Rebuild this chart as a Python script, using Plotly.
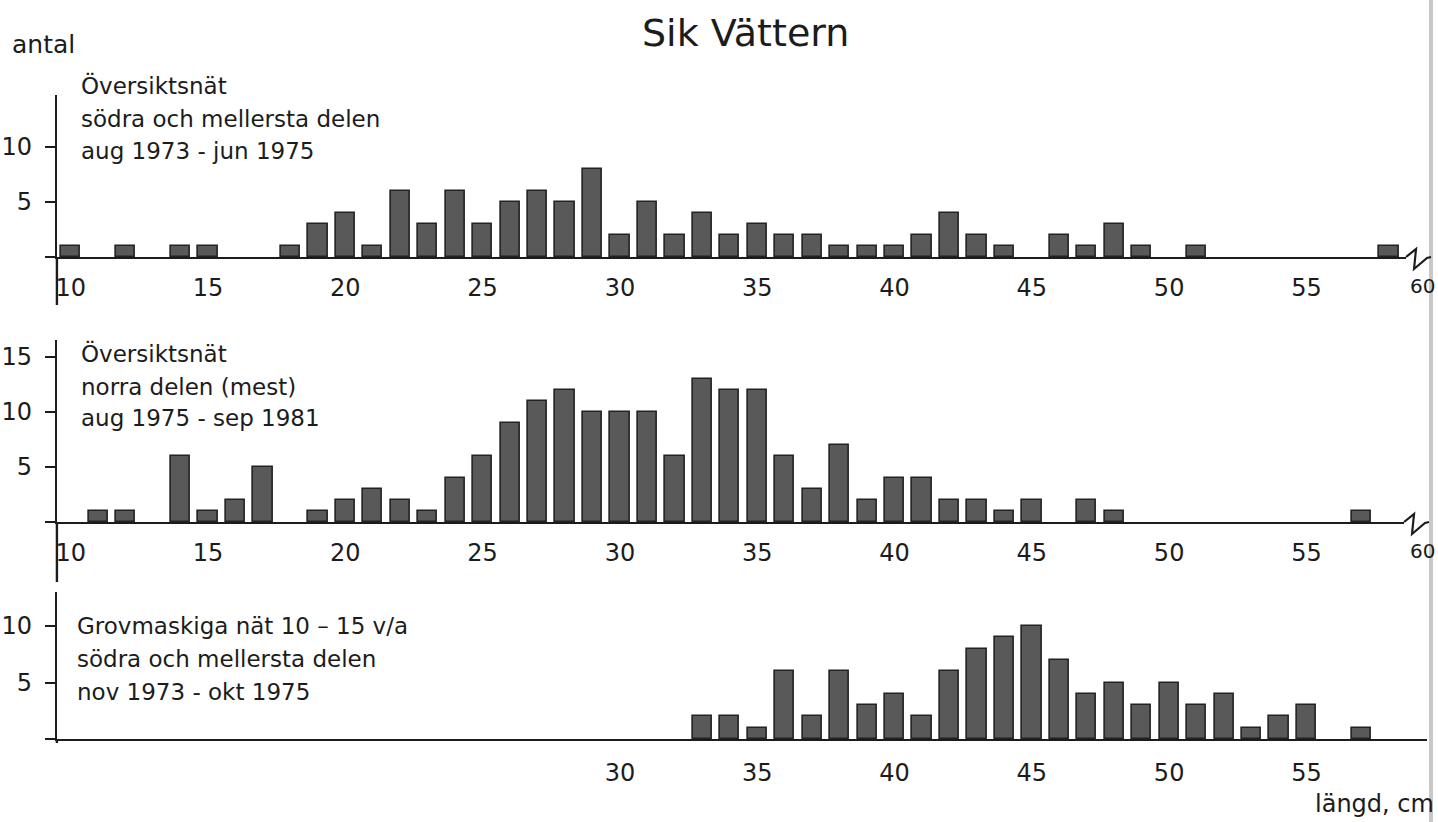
import plotly.graph_objects as go

W, H = 1438, 822

# ---------------- data (length in cm -> number of fish) ----------------
len1 = [10, 12, 14, 15, 18, 19, 20, 21, 22, 23, 24, 25, 26, 27, 28, 29, 30, 31, 32,
        33, 34, 35, 36, 37, 38, 39, 40, 41, 42, 43, 44, 46, 47, 48, 49, 51, 58]
cnt1 = [1, 1, 1, 1, 1, 3, 4, 1, 6, 3, 6, 3, 5, 6, 5, 8, 2, 5, 2,
        4, 2, 3, 2, 2, 1, 1, 1, 2, 4, 2, 1, 2, 1, 3, 1, 1, 1]

len2 = [11, 12, 14, 15, 16, 17, 19, 20, 21, 22, 23, 24, 25, 26, 27, 28, 29, 30, 31,
        32, 33, 34, 35, 36, 37, 38, 39, 40, 41, 42, 43, 44, 45, 47, 48, 57]
cnt2 = [1, 1, 6, 1, 2, 5, 1, 2, 3, 2, 1, 4, 6, 9, 11, 12, 10, 10, 10,
        6, 13, 12, 12, 6, 3, 7, 2, 4, 4, 2, 2, 1, 2, 2, 1, 1]

len3 = [33, 34, 35, 36, 37, 38, 39, 40, 41, 42, 43, 44, 45, 46, 47, 48, 49, 50,
        51, 52, 53, 54, 55, 57]
cnt3 = [2, 2, 1, 6, 2, 6, 3, 4, 2, 6, 8, 9, 10, 7, 4, 5, 3, 5,
        3, 4, 1, 2, 3, 1]

xticks_full = [10, 15, 20, 25, 30, 35, 40, 45, 50, 55]
xticks_p3 = [30, 35, 40, 45, 50, 55]

labels1 = ["Översiktsnät", "södra och mellersta delen", "aug 1973 - jun 1975"]
labels2 = ["Översiktsnät", "norra delen (mest)", "aug 1975 - sep 1981"]
labels3 = ["Grovmaskiga nät 10 – 15 v/a", "södra och mellersta delen", "nov 1973 - okt 1975"]

title = "Sik Vättern"
ytitle = "antal"
xtitle = "längd, cm"

# ---------------- styling / geometry ----------------
FONT = "DejaVu Sans"
INK = "#1c1c1c"
BARFILL = "#595959"
PXCM = 27.5          # pixels per cm on the x axes
X0 = 9.5             # x value at the y-axis line
AXLEFT = 55          # pixel position of the y-axis line


def px(p):
    return p / W


def py(p):
    return 1 - p / H


panels = [
    dict(x=len1, y=cnt1, base=257, top=95, ppu=11.0, right=1406,
         xt=xticks_full, yt=[0, 5, 10], ext=305, labels=labels1,
         lab_y=[86, 119, 151], lab_x=77, brk=True, standoff=8),
    dict(x=len2, y=cnt2, base=522, top=340, ppu=11.0, right=1404,
         xt=xticks_full, yt=[0, 5, 10, 15], ext=582, labels=labels2,
         lab_y=[353, 387, 418], lab_x=77, brk=True, standoff=8),
    dict(x=len3, y=cnt3, base=739, top=592, ppu=11.3, right=1427,
         xt=xticks_p3, yt=[0, 5, 10], ext=743, labels=labels3,
         lab_y=[626, 659, 692], lab_x=73, brk=False, standoff=11),
]

fig = go.Figure()
annotations = []
shapes = []

for i, p in enumerate(panels, start=1):
    sx = "" if i == 1 else str(i)
    fig.add_trace(go.Bar(
        x=p["x"], y=p["y"], width=0.7,
        marker=dict(color=BARFILL, line=dict(color="#222222", width=1.6)),
        xaxis="x" + sx, yaxis="y" + sx, showlegend=False,
        hovertemplate="%{x} cm: %{y}<extra></extra>",
    ))
    xr = [X0, X0 + (p["right"] - AXLEFT) / PXCM]
    yr = [0, (p["base"] - p["top"]) / p["ppu"]]
    fig.update_layout(**{
        "xaxis" + sx: dict(
            domain=[px(AXLEFT), px(p["right"])], range=xr, anchor="y" + sx,
            showline=True, linecolor=INK, linewidth=2.2,
            tickvals=p["xt"], ticks="", ticklabelstandoff=p["standoff"],
            showgrid=False, zeroline=False,
            tickfont=dict(family=FONT, size=24, color=INK),
        ),
        "yaxis" + sx: dict(
            domain=[py(p["base"]), py(p["top"])], range=yr, anchor="x" + sx,
            showline=True, linecolor=INK, linewidth=2.4,
            tickvals=p["yt"], ticktext=["" if v == 0 else str(v) for v in p["yt"]],
            ticks="outside", ticklen=10, tickwidth=2, tickcolor=INK,
            ticklabelstandoff=8,
            showgrid=False, zeroline=False,
            tickfont=dict(family=FONT, size=24, color=INK),
        ),
    })
    # y-axis line continuing below the baseline
    shapes.append(dict(type="line", xref="paper", yref="paper",
                       x0=px(AXLEFT), x1=px(AXLEFT), y0=py(p["base"]), y1=py(p["ext"]),
                       line=dict(color=INK, width=2.4)))
    # axis break symbol at the right end
    if p["brk"]:
        b = p["base"]
        r = p["right"]
        pts = [(r, b), (r + 10, b - 8), (r + 8, b + 12), (r + 21, b + 1), (r + 25, b)]
        path = "M " + " L ".join(f"{px(a):.5f},{py(c):.5f}" for a, c in pts)
        shapes.append(dict(type="path", xref="paper", yref="paper", path=path,
                           line=dict(color=INK, width=2.2)))
        # "60" tick label at the right edge of the page
        annotations.append(dict(text="60", xref="paper", yref="paper",
                                x=px(1437), y=py(b + 29),
                                xanchor="right", yanchor="middle", showarrow=False,
                                font=dict(family=FONT, size=20, color=INK)))
    for txt, yy in zip(p["labels"], p["lab_y"]):
        annotations.append(dict(text=txt, xref="paper", yref="paper",
                                x=px(p["lab_x"]), y=py(yy), xanchor="left", yanchor="middle",
                                showarrow=False,
                                font=dict(family=FONT, size=23, color=INK)))

annotations.append(dict(text=title, xref="paper", yref="paper", x=px(745), y=py(33),
                        xanchor="center", yanchor="middle", showarrow=False,
                        font=dict(family=FONT, size=38, color=INK)))
annotations.append(dict(text=ytitle, xref="paper", yref="paper", x=px(8), y=py(44),
                        xanchor="left", yanchor="middle", showarrow=False,
                        font=dict(family=FONT, size=25, color=INK)))
annotations.append(dict(text=xtitle, xref="paper", yref="paper", x=px(1436), y=py(804),
                        xanchor="right", yanchor="middle", showarrow=False,
                        font=dict(family=FONT, size=24, color=INK)))

# edge of the scanned page
shapes.append(dict(type="line", xref="paper", yref="paper", x0=px(1431), x1=px(1431),
                   y0=0, y1=1, line=dict(color="#c8c8c8", width=4), layer="below"))

fig.update_layout(
    width=W, height=H, margin=dict(l=0, r=0, t=0, b=0),
    paper_bgcolor="white", plot_bgcolor="rgba(0,0,0,0)",
    bargap=0, showlegend=False,
    annotations=annotations, shapes=shapes,
    font=dict(family=FONT, color=INK),
)

fig.write_html("out.html")
